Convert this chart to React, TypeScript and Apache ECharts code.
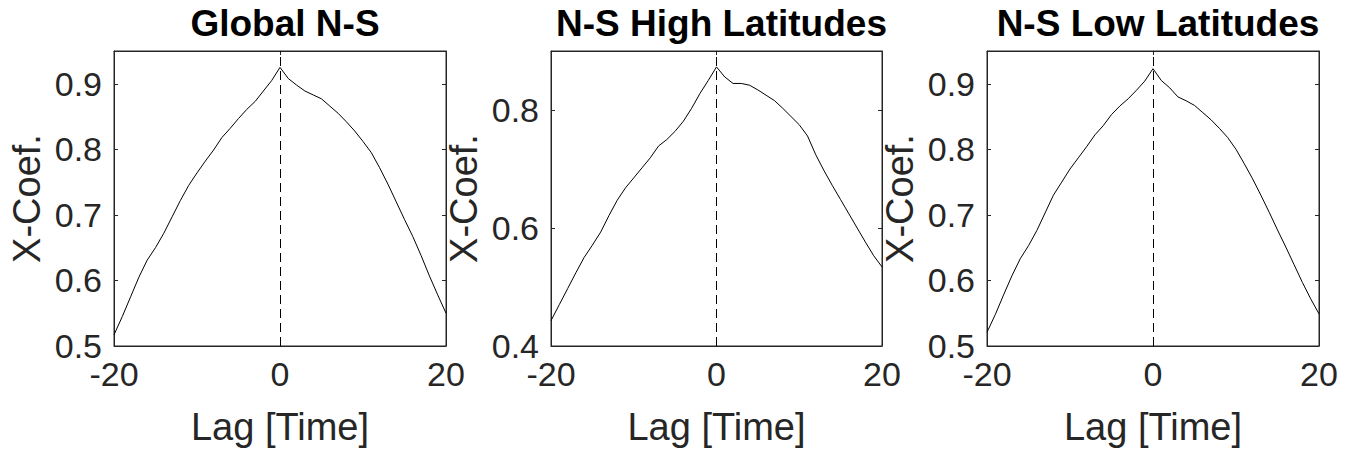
import React, { useEffect, useRef } from "react";
import * as echarts from "echarts";

const lags: number[] = [];
for (let l = -20; l <= 20; l++) lags.push(l);

const titles = ["Global N-S", "N-S High Latitudes", "N-S Low Latitudes"];

const globalNS = [
  0.517, 0.545, 0.575, 0.605, 0.631, 0.65, 0.672, 0.697, 0.722, 0.745, 0.764,
  0.782, 0.799, 0.818, 0.832, 0.847, 0.861, 0.873, 0.889, 0.905, 0.925, 0.908,
  0.898, 0.889, 0.883, 0.877, 0.866, 0.855, 0.842, 0.828, 0.812, 0.795, 0.772,
  0.747, 0.72, 0.693, 0.667, 0.638, 0.607, 0.578, 0.55,
];
const highNS = [
  0.443, 0.47, 0.497, 0.524, 0.55, 0.571, 0.593, 0.621, 0.647, 0.668, 0.685,
  0.702, 0.719, 0.739, 0.75, 0.764, 0.781, 0.803, 0.828, 0.85, 0.873, 0.856,
  0.845, 0.845, 0.842, 0.834, 0.825, 0.816, 0.803, 0.789, 0.775, 0.756, 0.724,
  0.697, 0.672, 0.648, 0.624, 0.6, 0.576, 0.553, 0.534,
];
const lowNS = [
  0.521, 0.548, 0.578, 0.607, 0.633, 0.653, 0.676, 0.703, 0.73, 0.75, 0.77,
  0.787, 0.804, 0.822, 0.836, 0.853, 0.866, 0.877, 0.89, 0.904, 0.923, 0.905,
  0.894, 0.88, 0.874, 0.867, 0.856, 0.845, 0.832, 0.818, 0.8, 0.778, 0.755,
  0.73, 0.704, 0.677, 0.651, 0.624, 0.597, 0.572, 0.549,
];
const seriesData = [globalNS, highNS, lowNS];

const xTicks = [-20, 0, 20];
const yTicks = [
  [0.5, 0.6, 0.7, 0.8, 0.9],
  [0.4, 0.6, 0.8],
  [0.5, 0.6, 0.7, 0.8, 0.9],
];
const yRanges = [
  [0.5, 0.95],
  [0.4, 0.9],
  [0.5, 0.95],
];

const xLabel = "Lag [Time]";
const yLabel = "X-Coef.";

const gridLefts = [114, 551, 987];
const gridWidths = [332, 331, 332];
const GRID_TOP = 51;
const GRID_H = 295;

const FONT = "'Liberation Sans', Arial, Helvetica, sans-serif";
const AX = "#262626";

export default function App() {
  const ref = useRef<HTMLDivElement>(null);
  useEffect(() => {
    if (!ref.current) return;
    const chart = echarts.init(ref.current, undefined, { renderer: "svg" });
    const grid: any[] = [];
    const xAxis: any[] = [];
    const yAxis: any[] = [];
    const series: any[] = [];
    const title: any[] = [];
    for (let i = 0; i < 3; i++) {
      grid.push({
        left: gridLefts[i],
        top: GRID_TOP,
        width: gridWidths[i],
        height: GRID_H,
        show: true,
        borderColor: AX,
        borderWidth: 1,
        backgroundColor: "#fff",
      });
      title.push({
        text: titles[i],
        left: gridLefts[i] + gridWidths[i] / 2,
        top: 0,
        textAlign: "center",
        textStyle: { fontFamily: FONT, fontSize: 37, fontWeight: "bold", color: "#000" },
      });
      const common = {
        type: "value",
        gridIndex: i,
        splitLine: { show: false },
        axisLine: { show: true, onZero: false, lineStyle: { color: AX, width: 1 } },
      };
      xAxis.push({
        ...common,
        position: "bottom",
        min: -20,
        max: 20,
        interval: 20,
        name: xLabel,
        nameLocation: "middle",
        nameGap: 62,
        nameTextStyle: { fontFamily: FONT, fontSize: 38, color: AX },
        axisTick: { show: true, inside: true, length: 4, customValues: xTicks, lineStyle: { color: AX } },
        axisLabel: { fontFamily: FONT, fontSize: 34, color: AX, margin: 11, customValues: xTicks },
      });
      xAxis.push({
        ...common,
        position: "top",
        min: -20,
        max: 20,
        interval: 20,
        axisTick: { show: true, inside: true, length: 4, customValues: xTicks, lineStyle: { color: AX } },
        axisLabel: { show: false },
      });
      yAxis.push({
        ...common,
        position: "left",
        min: yRanges[i][0],
        max: yRanges[i][1],
        name: yLabel,
        nameLocation: "middle",
        nameGap: 68,
        nameTextStyle: { fontFamily: FONT, fontSize: 38, color: AX },
        axisTick: { show: true, inside: true, length: 4, customValues: yTicks[i], lineStyle: { color: AX } },
        axisLabel: { fontFamily: FONT, fontSize: 34, color: AX, margin: 12, customValues: yTicks[i] },
      });
      yAxis.push({
        ...common,
        position: "right",
        min: yRanges[i][0],
        max: yRanges[i][1],
        axisTick: { show: true, inside: true, length: 4, customValues: yTicks[i], lineStyle: { color: AX } },
        axisLabel: { show: false },
      });
      series.push({
        type: "line",
        xAxisIndex: i * 2,
        yAxisIndex: i * 2,
        data: lags.map((l, k) => [l, seriesData[i][k]]),
        showSymbol: false,
        symbol: "none",
        lineStyle: { color: "#000", width: 1 },
        markLine: {
          silent: true,
          symbol: "none",
          label: { show: false },
          lineStyle: { color: "#000", width: 1, type: [9, 5] },
          data: [{ xAxis: 0 }],
        },
        z: 3,
      });
    }
    chart.setOption({
      animation: false,
      backgroundColor: "#fff",
      title,
      grid,
      xAxis,
      yAxis,
      series,
    });
    return () => chart.dispose();
  }, []);
  return (
    <div
      ref={ref}
      style={{ position: "fixed", left: 0, top: 0, width: 1350, height: 455, background: "#fff" }}
    />
  );
}
